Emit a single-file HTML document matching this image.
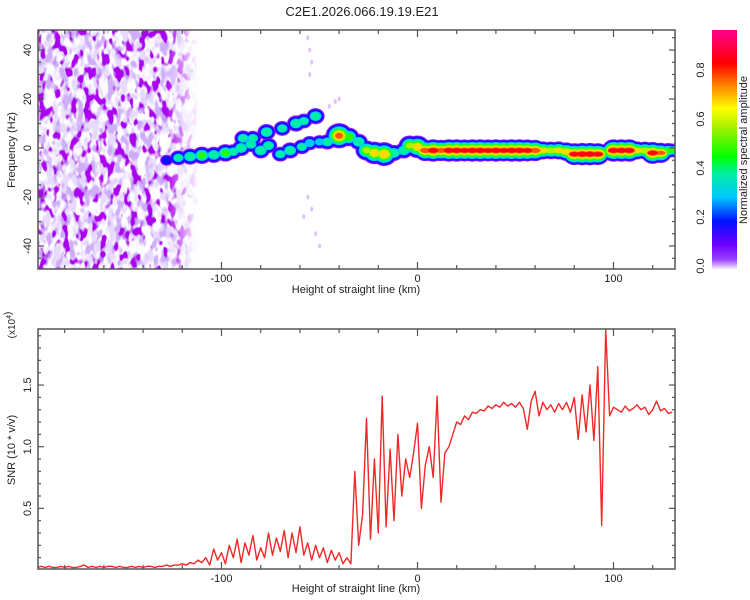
<!DOCTYPE html>
<html><head><meta charset="utf-8"><style>
html,body{margin:0;padding:0;background:#fff;}
svg{display:block;font-family:"Liberation Sans",sans-serif;}
</style></head><body>
<svg id="chart" width="750" height="600" viewBox="0 0 750 600" xmlns="http://www.w3.org/2000/svg">
<defs>
<filter id="noiseA" x="0" y="0" width="1" height="1">
<feTurbulence type="fractalNoise" baseFrequency="0.13 0.075" numOctaves="2" seed="7" result="t"/>
<feColorMatrix in="t" type="matrix" values="0 0 0 0 0.4  0 0 0 0 0.0  0 0 0 0 0.85  9 0 0 0 -4.8" result="dark"/>
<feColorMatrix in="t" type="matrix" values="0 0 0 0 0.8  0 0 0 0 0.7  0 0 0 0 0.98  0 6 0 0 -2.7" result="light"/>
<feColorMatrix in="t" type="matrix" values="0 0 0 0 0.62  0 0 0 0 0.42  0 0 0 0 0.95  0 0 7 0 -3.6" result="mid"/>
<feMerge><feMergeNode in="light"/><feMergeNode in="mid"/><feMergeNode in="dark"/></feMerge>
</filter>
<linearGradient id="fade" x1="0" y1="0" x2="1" y2="0">
<stop offset="0" stop-color="#fff" stop-opacity="1"/>
<stop offset="0.8" stop-color="#fff" stop-opacity="1"/>
<stop offset="1" stop-color="#fff" stop-opacity="0"/>
</linearGradient>
<mask id="fadeMask"><rect x="38" y="30" width="160" height="239" fill="url(#fade)"/></mask>
<linearGradient id="cbar" x1="0" y1="1" x2="0" y2="0">
<stop offset="0" stop-color="#f4eeff"/>
<stop offset="0.04" stop-color="#9a40ff"/>
<stop offset="0.1" stop-color="#7000ff"/>
<stop offset="0.2" stop-color="#0010ff"/>
<stop offset="0.3" stop-color="#00c8ff"/>
<stop offset="0.4" stop-color="#00f0a0"/>
<stop offset="0.47" stop-color="#00ff00"/>
<stop offset="0.6" stop-color="#b0f000"/>
<stop offset="0.67" stop-color="#ffff00"/>
<stop offset="0.77" stop-color="#ff8000"/>
<stop offset="0.86" stop-color="#ff0000"/>
<stop offset="1" stop-color="#ff0090"/>
</linearGradient>
<clipPath id="clipTop"><rect x="38" y="30" width="637" height="239"/></clipPath>
<clipPath id="clipBot"><rect x="38" y="329" width="637" height="240"/></clipPath>
</defs>

<text x="362" y="16" font-size="13" text-anchor="middle" fill="#222">C2E1.2026.066.19.19.E21</text>

<g id="topPlot">
<g clip-path="url(#clipTop)">
<g mask="url(#fadeMask)"><rect x="38" y="30" width="160" height="239" filter="url(#noiseA)"/></g>
<g id="ridge"></g>
</g>
<rect x="38" y="30" width="637" height="239" fill="none" stroke="#555" stroke-width="1.5"/>
<g id="topAxes"></g>
<text x="356" y="293" font-size="11" text-anchor="middle" fill="#222">Height of straight line (km)</text>
<text transform="translate(15,150) rotate(-90)" font-size="11" text-anchor="middle" fill="#222">Frequency (Hz)</text>
</g>

<g>
<rect x="712" y="30" width="25" height="239" fill="url(#cbar)"/>
<g id="cbarTicks"></g>
<text transform="translate(747,150) rotate(-90)" font-size="11" text-anchor="middle" fill="#222">Normalized spectral amplitude</text>
</g>

<g id="botPlot">
<g clip-path="url(#clipBot)"><path id="snrLine" fill="none" stroke="#f02828" stroke-width="1.4" stroke-linejoin="round"/></g>
<rect x="38" y="329" width="637" height="240" fill="none" stroke="#555" stroke-width="1.5"/>
<g id="botAxes"></g>
<text x="356" y="592" font-size="11" text-anchor="middle" fill="#222">Height of straight line (km)</text>
<text transform="translate(15,450) rotate(-90)" font-size="11" text-anchor="middle" fill="#222">SNR (10 * v/v)</text>
<text transform="translate(15,325) rotate(-90)" font-size="10" text-anchor="middle" fill="#222">(x10<tspan font-size="7" dy="-4">4</tspan>)</text>
</g>
</svg>
<script>
// ---- data ----
const snrStart = -194;
const snrStep = 2;
const snrValues = [
0.02,0.03,0.02,0.03,0.02,0.02,0.03,0.02,0.03,0.02,0.02,0.03,0.04,0.02,0.03,0.02,0.03,0.02,0.03,0.03,0.02,0.03,0.02,0.02,0.03,0.02,0.03,0.02,0.03,0.03,0.02,0.03,
0.03,0.04,0.03,0.04,0.04,0.05,0.04,0.06,0.05,0.08,0.06,0.10,
0.04,0.17,0.08,0.14,0.05,0.2,0.1,0.25,0.06,0.22,0.12,0.28,0.08,0.18,0.1,0.3,0.12,0.26,0.15,0.32,0.1,0.3,0.14,0.35,
0.12,0.22,0.08,0.2,0.1,0.18,0.06,0.16,0.08,0.14,0.05,0.1,
0.05,0.8,0.2,0.45,1.23,0.25,0.9,0.3,1.41,0.35,0.98,0.4,1.1,0.6,0.9,0.75,0.95,1.19,0.5,0.85,1.0,0.75,1.41,0.55,0.95,1.0,1.1,1.2,1.18,1.25,1.22,1.28,1.27,1.3,1.29,1.33,1.31,1.34,1.32,1.36,1.33,1.35,1.32,1.36,1.31,1.14,1.37,1.45,1.25,1.36,1.3,1.34,1.28,1.35,1.3,1.36,1.28,1.4,1.06,1.42,1.12,1.5,1.05,1.65,0.36,1.95,1.25,1.32,1.3,1.28,1.33,1.29,1.31,1.34,1.3,1.32,1.26,1.3,1.37,1.29,1.31,1.27,1.28
];
const ridgeKm  = [-128,-122,-116,-110,-104,-98,-94,-90,-85,-80,-76,-70,-65,-59,-55,-50,-46,-40,-35,-30,-26,-22,-17,-12,-7,-4,0, -89,-84,-77,-69,-62,-58,-52];
const ridgeHz  = [-5,-4,-3.5,-3,-2.8,-2,-1.5,0,1.5,-1,1,-2.5,-1,0.5,2,2.5,2.5,5,4.5,2.5,-1,-2,-2.5,-2,-1,1,0.5, 4,4,6.5,8,10,11,13];
const ridgeAmp = [0.25,0.4,0.45,0.5,0.45,0.5,0.4,0.45,0.42,0.45,0.42,0.4,0.45,0.4,0.38,0.35,0.42,0.8,0.55,0.45,0.6,0.7,0.75,0.45,0.45,0.6,0.7, 0.42,0.4,0.45,0.4,0.45,0.4,0.45];
const bandKm  = [4,8,12,16,20,24,28,32,36,40,44,48,52,56,60,64,68,72,76,80,84,88,92,96,100,104,108,112,116,120,124,128,132];
const bandHz  = [-1,-1,-1,-1,-1,-1,-1,-1,-1,-1,-1,-1,-1,-1,-1,-1,-1,-1,-1.5,-2.5,-2.5,-2.5,-2.5,-1.5,-1,-1,-1,-1,-1,-2,-2,-1,-1];
const bandAmp = [0.85,0.9,0.85,0.9,0.9,0.88,0.9,0.9,0.88,0.9,0.88,0.9,0.9,0.88,0.85,0.7,0.68,0.7,0.72,0.88,0.9,0.9,0.88,0.55,0.9,0.9,0.9,0.7,0.68,0.88,0.8,0.55,0.55];
const faintKm = [-56,-55,-54,-55,-56,-54,-45,-42,-40,-58,-52,-50];
const faintHz = [45,40,35,30,-20,-25,17,19,20,-28,-35,-40];
const xTicksMajor = [-100,0,100];
const topYTickLabels = [40,20,0,-20,-40];
const botYTickLabels = [0.5,1.0,1.5];
const cbarTickLabels = [0.0,0.2,0.4,0.6,0.8];

// ---- scales ----
const X = km => 417.5 + 1.96*km;
const YT = hz => 148 - 2.45*hz;
const YB = v => 570 - 123.3*v;
const YC = v => 266 - 245*v;
const NS = "http://www.w3.org/2000/svg";
function mk(tag, attrs, parent){const e=document.createElementNS(NS,tag);for(const k in attrs)e.setAttribute(k,attrs[k]);parent.appendChild(e);return e;}

const stops=[[0,[244,238,255]],[0.04,[154,64,255]],[0.1,[112,0,255]],[0.2,[0,16,255]],[0.3,[0,200,255]],[0.4,[0,240,160]],[0.47,[0,255,0]],[0.6,[176,240,0]],[0.67,[255,255,0]],[0.77,[255,128,0]],[0.86,[255,0,0]],[1,[255,0,144]]];
function cmap(v){for(let i=1;i<stops.length;i++){if(v<=stops[i][0]){const a=stops[i-1],b=stops[i];const t=(v-a[0])/(b[0]-a[0]);const c=a[1].map((x,j)=>Math.round(x+(b[1][j]-x)*t));return `rgb(${c})`;}}return "rgb(255,0,144)";}

// ---- spectrogram ----
const ridge=document.getElementById('ridge');
function blobLayer(kms,hzs,amps,level,rxk,ryk,op){
  for(let i=0;i<kms.length;i++){
    if(amps[i]<level) continue;
    const d=amps[i]-level;
    const e=mk('ellipse',{cx:X(kms[i]),cy:YT(hzs[i]),rx:rxk(d),ry:ryk(d),fill:cmap(level),opacity:op},ridge);
    
    
  }
}
for(let i=0;i<faintKm.length;i++){
  const e=mk('ellipse',{cx:X(faintKm[i]),cy:YT(faintHz[i]),rx:1.5,ry:2.5,fill:cmap(0.02),opacity:0.6},ridge);
  
  
}
const levels=[0.0,0.06,0.12,0.2,0.3,0.4,0.5,0.6,0.7,0.8,0.88];
levels.forEach(L=>{
  const op = L<0.03?0.55:1;
  blobLayer(ridgeKm,ridgeHz,ridgeAmp,L,d=>4+d*13,d=>3+d*13,op);
  blobLayer(bandKm,bandHz,bandAmp,L,d=>5+d*8,d=>2+d*11,op);
});

// ---- axes ----
function xAxis(g,yTop,yBot){
  for(let km=-180;km<=130;km+=20){
    const major=xTicksMajor.includes(km);const len=major?7:4;
    const t1=mk('line',{x1:X(km),x2:X(km),y1:yTop,y2:yTop+len,stroke:'#555','stroke-width':1.2},g);
    
    const t2=mk('line',{x1:X(km),x2:X(km),y1:yBot,y2:yBot-len,stroke:'#555','stroke-width':1.2},g);
    
  }
  xTicksMajor.forEach(km=>{
    const t=mk('text',{x:X(km),y:yBot+13,'font-size':11,'text-anchor':'middle',fill:'#222'},g);
    t.textContent=km;
    
  });
}
const ta=document.getElementById('topAxes');
xAxis(ta,30,269);
for(let hz=-45;hz<=45;hz+=5){
  const major=hz%20===0;const len=major?6:3;
  [[38,38+len],[675,675-len]].forEach(([a,b])=>{
    const l=mk('line',{x1:a,x2:b,y1:YT(hz),y2:YT(hz),stroke:'#555','stroke-width':1.2},ta);
    
  });
}
topYTickLabels.forEach(hz=>{
  const t=mk('text',{transform:`translate(31,${YT(hz)}) rotate(-90)`,'font-size':11,'text-anchor':'middle',fill:'#222'},ta);
  t.textContent=hz;
  
});
const ba=document.getElementById('botAxes');
xAxis(ba,329,569);
for(let k=1;k<=19;k++){
  const v=k/10;const major=k%5===0;const len=major?6:3;
  [[38,38+len],[675,675-len]].forEach(([a,b])=>{
    const l=mk('line',{x1:a,x2:b,y1:YB(v),y2:YB(v),stroke:'#555','stroke-width':1.2},ba);
    
  });
}
botYTickLabels.forEach(v=>{
  const t=mk('text',{transform:`translate(31,${YB(v)}) rotate(-90)`,'font-size':11,'text-anchor':'middle',fill:'#222'},ba);
  t.textContent=v.toFixed(1);
  
});
const ct=document.getElementById('cbarTicks');
cbarTickLabels.forEach(v=>{
  const t=mk('text',{transform:`translate(704,${YC(v)}) rotate(-90)`,'font-size':11,'text-anchor':'middle',fill:'#222'},ct);
  t.textContent=v.toFixed(1);
  
});

// ---- SNR line ----
let d='';
snrValues.forEach((v,i)=>{d+=(i?'L':'M')+X(snrStart+i*snrStep).toFixed(1)+','+YB(v).toFixed(1);});
document.getElementById('snrLine').setAttribute('d',d);
</script>
</body></html>
